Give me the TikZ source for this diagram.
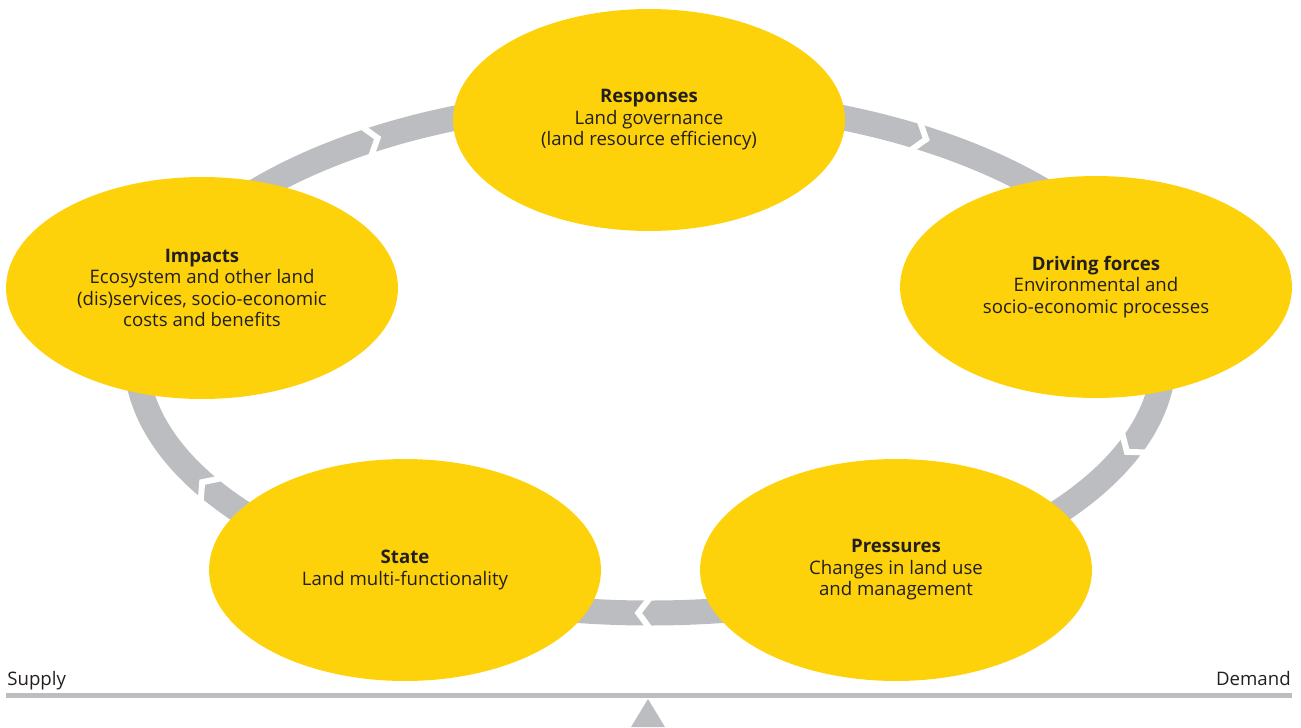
\documentclass[tikz,border=0pt]{standalone}
\usepackage{fontspec}
\setmainfont{Open Sans}
\usetikzlibrary{shapes.geometric}
\definecolor{landYellow}{HTML}{FDD20B}
\definecolor{landGrey}{HTML}{BCBDC0}
\definecolor{landText}{HTML}{231F20}
\begin{document}
\begin{tikzpicture}[x=0.02cm,y=-0.02cm,font=\fontsize{10.6}{12.2}\selectfont]
  \tikzstyle{every node}=[text=landText]
  \tikzstyle{stage}=[ellipse,fill=landYellow,minimum width=7.84cm,minimum height=4.44cm,inner sep=0pt,align=center]
  \tikzstyle{notch}=[draw=white,line width=0.12cm,miter limit=10]
  \useasboundingbox (0,0) rectangle (1301,727);
  % the cycle
  \draw[landGrey,line width=0.5cm] (650,356) ellipse [x radius=514,y radius=257];
  \foreach \t in {-122,-57.5,21.9,91.3,150.6}{
    \pgfmathsetmacro\px{650+514*cos(\t)}
    \pgfmathsetmacro\py{356+257*sin(\t)}
    \pgfmathsetmacro\tl{veclen(514*sin(\t),257*cos(\t))}
    \pgfmathsetmacro\ux{-514*sin(\t)/\tl}
    \pgfmathsetmacro\uy{257*cos(\t)/\tl}
    \pgfmathsetmacro\ax{\px-12*\ux-16*\uy}
    \pgfmathsetmacro\ay{\py-12*\uy+16*\ux}
    \pgfmathsetmacro\bx{\px-12*\ux+16*\uy}
    \pgfmathsetmacro\by{\py-12*\uy-16*\ux}
    \draw[notch] (\ax,\ay) -- (\px,\py) -- (\bx,\by);
  }
  \node[stage] (responses) at (649,120) {\textbf{Responses}\\Land governance\\(land resource efficiency)};
  \node[stage] (drivers) at (1096,287) {\textbf{Driving forces}\\Environmental and\\socio-economic processes};
  \node[stage] (pressures) at (896,570) {\textbf{Pressures}\\Changes in land use\\and management};
  \node[stage] (state) at (405,570) {\textbf{State}\\Land multi-functionality};
  \node[stage] (impacts) at (202,288) {\textbf{Impacts}\\Ecosystem and other land\\(dis)services, socio-economic\\costs and benefits};
  % balance
  \coordinate (supplyEnd) at (6,695.5);
  \coordinate (demandEnd) at (1292,695.5);
  \draw[landGrey,line width=0.1cm] (supplyEnd) -- (demandEnd);
  \node[anchor=base west,inner sep=0pt] (supply) at (7,685) {Supply};
  \node[anchor=base east,inner sep=0pt] (demand) at (1291,685) {Demand};
  \fill[landGrey] (648,699) -- (631,727) -- (665,727) -- cycle;
\end{tikzpicture}
\end{document}
